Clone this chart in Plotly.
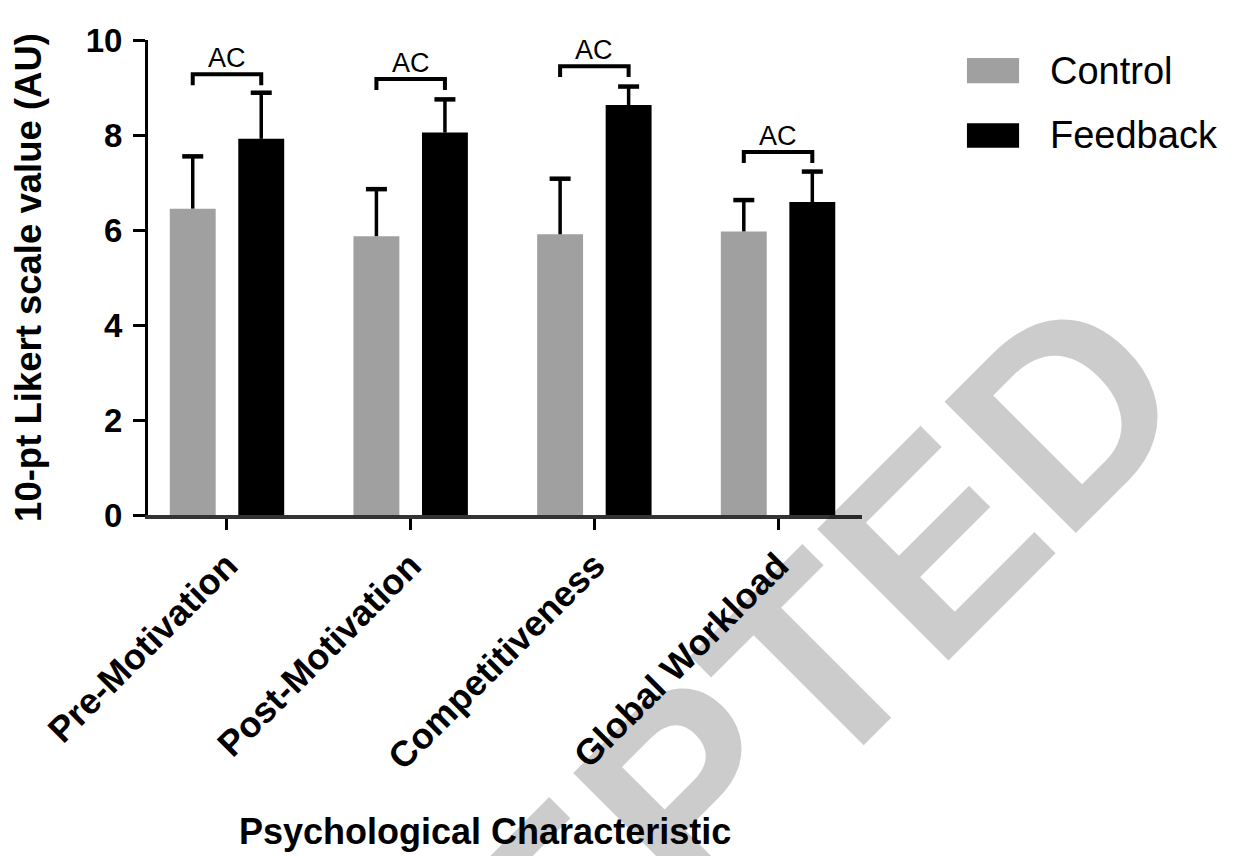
import plotly.graph_objects as go

# ---------------- data ----------------
categories = ["Pre-Motivation", "Post-Motivation", "Competitiveness", "Global Workload"]
control_mean = [6.45, 5.87, 5.91, 5.97]
control_err = [1.10, 0.99, 1.17, 0.66]
feedback_mean = [7.92, 8.05, 8.63, 6.59]
feedback_err = [0.97, 0.70, 0.39, 0.64]
sig_labels = ["AC", "AC", "AC", "AC"]
bracket_top = [9.28, 9.18, 9.45, 7.64]
bracket_leg = 0.23
y_ticks = [0, 2, 4, 6, 8, 10]
series_names = ["Control", "Feedback"]
series_colors = ["#a0a0a0", "#000000"]

FONT = "Liberation Sans, Arial, sans-serif"
BARGAP = 0.254
BARGROUPGAP = 0.33
offset = (1 - BARGAP) / 4.0

xpos = list(range(len(categories)))

fig = go.Figure()
series = [(control_mean, control_err, -offset), (feedback_mean, feedback_err, +offset)]
for (means, errs, off), name, col in zip(series, series_names, series_colors):
    fig.add_trace(go.Bar(
        x=xpos, y=means, name=name,
        marker=dict(color=col, line=dict(width=0)),
        showlegend=False,
    ))

# upper-only error bars (stem + cap)
for (means, errs, off), name in zip(series, series_names):
    sx, sy = [], []
    for i, (m, e) in enumerate(zip(means, errs)):
        sx += [i + off, i + off, None]
        sy += [m, m + e, None]
    fig.add_trace(go.Scatter(
        x=sx, y=sy, mode="lines", line=dict(color="black", width=3.5),
        showlegend=False, hoverinfo="skip", name=name + " error",
    ))
    fig.add_trace(go.Scatter(
        x=[i + off for i in xpos], y=[m + e for m, e in zip(means, errs)],
        mode="markers",
        marker=dict(symbol="line-ew", size=15, line=dict(color="black", width=4.5)),
        showlegend=False, hoverinfo="skip", name=name + " cap",
    ))

# significance brackets
annotations = []
for i, top in enumerate(bracket_top):
    fig.add_trace(go.Scatter(
        x=[i - offset, i - offset, i + offset, i + offset],
        y=[top - bracket_leg, top, top, top - bracket_leg],
        mode="lines", line=dict(color="black", width=4),
        showlegend=False, hoverinfo="skip",
    ))
    annotations.append(dict(
        x=i, y=top, xref="x", yref="y", text=sig_labels[i],
        showarrow=False, xanchor="center", yanchor="bottom", yshift=-1,
        font=dict(family=FONT, size=27, color="black"),
    ))

# manual legend (large rectangles like the original)
shapes = []
legend_rows = [(0.962, 0.909), (0.825, 0.773)]
for (y1, y0), name, col in zip(legend_rows, series_names, series_colors):
    shapes.append(dict(type="rect", xref="paper", yref="paper",
                       x0=1.147, x1=1.220, y0=y0, y1=y1,
                       fillcolor=col, line=dict(width=0)))
    annotations.append(dict(
        x=1.2605, y=(y0 + y1) / 2, xref="paper", yref="paper", text=name,
        showarrow=False, xanchor="left", yanchor="middle",
        font=dict(family=FONT, size=38, color="black"),
    ))

# x-axis title
annotations.append(dict(
    x=0.472, y=-0.667, xref="paper", yref="paper",
    text="Psychological Characteristic", showarrow=False,
    xanchor="center", yanchor="middle",
    font=dict(family=FONT, size=36, color="black", weight="bold"),
))

# watermark
annotations.append(dict(
    x=(609 - 148) / 714, y=(515 - 867) / 475, xref="paper", yref="paper",
    text="ACCEPTED",
    showarrow=False, xanchor="center", yanchor="middle", textangle=-45,
    font=dict(family=FONT, size=270, color="rgba(0,0,0,0.2)", weight="bold"),
))

# page body has an 8px default margin; size the figure so the plot area
# lands where the original's does
fig.update_layout(
    width=1231, height=848,
    margin=dict(l=140, r=377, t=32, b=341, pad=0),
    paper_bgcolor="white", plot_bgcolor="white",
    barmode="group", bargap=BARGAP, bargroupgap=BARGROUPGAP,
    showlegend=False,
    annotations=annotations, shapes=shapes,
    font=dict(family=FONT, color="black"),
)
fig.update_xaxes(
    range=[-0.43, 3.457], tickmode="array", tickvals=xpos, ticktext=categories,
    tickangle=-45, ticks="outside", ticklen=11, tickwidth=3, tickcolor="black",
    showline=True, linecolor="#333333", linewidth=4,
    showgrid=False, zeroline=False,
    tickfont=dict(family=FONT, size=36, color="black", weight="bold"),
)
fig.update_yaxes(
    range=[0, 10], tickmode="array", tickvals=y_ticks,
    ticks="outside", ticklen=12, tickwidth=3, tickcolor="black",
    showline=True, linecolor="black", linewidth=3,
    showgrid=False, zeroline=False, ticklabelstandoff=4,
    tickfont=dict(family=FONT, size=33, color="black", weight="bold"),
    title=dict(text="10-pt Likert scale value (AU)", standoff=36,
               font=dict(family=FONT, size=36.5, color="black", weight="bold")),
)

fig.write_html("out.html")
